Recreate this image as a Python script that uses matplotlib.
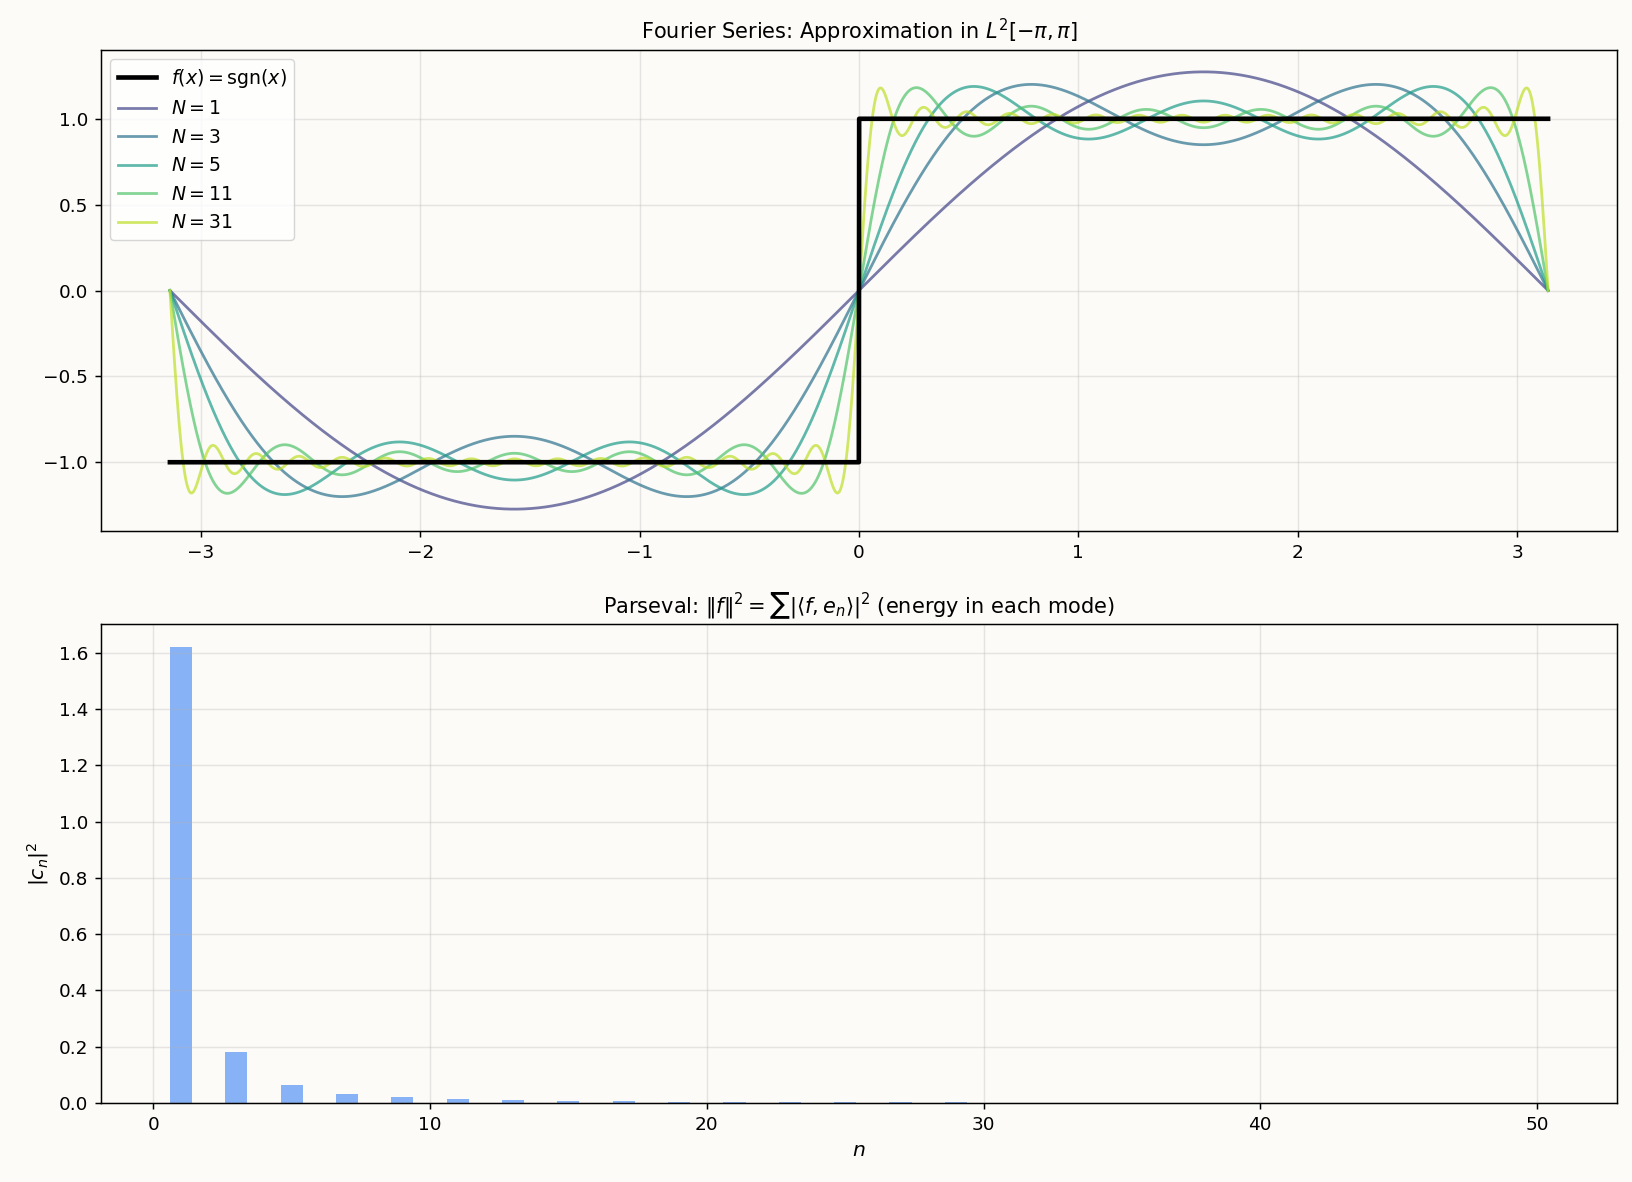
import numpy as np
import matplotlib
matplotlib.use("Agg")
import matplotlib.pyplot as plt

# partial sums shown in the top panel
N_terms = [1, 3, 5, 11, 31]

# energy |c_n|^2, n = 1..50 (even modes are zero)
modes = list(range(1, 51))
energy_odd = [1.621, 0.180, 0.065, 0.033, 0.020, 0.0134, 0.0096, 0.0072,
              0.0056, 0.0045, 0.0037, 0.0031, 0.0026, 0.0022, 0.0019, 0.0017,
              0.0015, 0.0013, 0.0012, 0.0011, 0.00098, 0.00089, 0.00081,
              0.00074, 0.00068]
energy = []
for n in modes:
    energy.append(energy_odd[(n - 1) // 2] if n % 2 == 1 else 0.0)

# original looks rendered at ~133 dpi, so scale the defaults up
k = 1.33
plt.rcParams.update({
    "font.size": 10 * k,
    "axes.linewidth": 0.8 * k,
    "xtick.major.size": 3.5 * k,
    "ytick.major.size": 3.5 * k,
    "xtick.major.width": 0.8 * k,
    "ytick.major.width": 0.8 * k,
    "xtick.major.pad": 3.5 * k,
    "ytick.major.pad": 3.5 * k,
    "grid.linewidth": 0.8 * k,
    "axes.titlepad": 6 * k,
    "axes.labelpad": 4 * k,
})

bg = "#fcfbf8"
fig = plt.figure(figsize=(16.32, 11.82), dpi=100, facecolor=bg)
ax1 = fig.add_axes([101/1632, 1 - 531/1182, 1516/1632, 481/1182], facecolor=bg)
ax2 = fig.add_axes([101/1632, 1 - 1103/1182, 1516/1632, 479/1182], facecolor=bg)

x = np.linspace(-np.pi, np.pi, 4000)
ax1.plot(x, np.sign(x), color="black", lw=2.5 * k, label=r"$f(x) = \mathrm{sgn}(x)$", zorder=5)

colors = plt.cm.viridis(np.linspace(0.2, 0.9, len(N_terms)))
for N, c in zip(N_terms, colors):
    s = np.zeros_like(x)
    for n, e in zip(modes, energy):
        if n <= N and e > 0:
            s += np.sqrt(e) * np.sin(n * x)
    ax1.plot(x, s, color=c, lw=1.5 * k, alpha=0.7, label=f"$N = {N}$")

ax1.set_title(r"Fourier Series: Approximation in $L^2[-\pi, \pi]$", fontsize=15)
ax1.legend(loc="upper left", fontsize=13.6)
ax1.grid(True, alpha=0.3)

ax2.bar(modes, energy, width=0.8, color="#3b82f6", alpha=0.6)
ax2.set_title(r"Parseval: $\|f\|^2 = \sum|\langle f, e_n\rangle|^2$ (energy in each mode)", fontsize=15)
ax2.set_xlabel("$n$", fontsize=11 * k)
ax2.set_ylabel("$|c_n|^2$", fontsize=11 * k)
ax2.grid(True, alpha=0.3)

fig.savefig("out.png", dpi=100, facecolor=bg)
